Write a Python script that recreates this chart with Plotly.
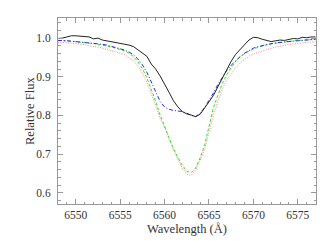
import plotly.graph_objects as go

wavelength = [6548.0 + 0.5 * i for i in range(59)]

flux_observed = [
    0.999, 1.000, 1.003, 1.006, 1.006, 1.005, 1.005, 1.003, 0.998, 1.000,
    0.995, 0.993, 0.991, 0.989, 0.987, 0.985, 0.982, 0.978, 0.970, 0.960,
    0.953, 0.933, 0.920, 0.902, 0.882, 0.860, 0.838, 0.822, 0.810, 0.804,
    0.801, 0.797, 0.803, 0.818, 0.835, 0.852, 0.875, 0.898, 0.918, 0.940,
    0.958, 0.970, 0.982, 0.995, 1.002, 1.001, 0.997, 0.993, 0.991, 0.993,
    0.995, 0.994, 0.997, 0.999, 0.998, 1.002, 1.001, 1.003, 1.003,
]

flux_model_blue = [
    0.994, 0.994, 0.993, 0.992, 0.991, 0.990, 0.989, 0.988, 0.987, 0.985,
    0.984, 0.982, 0.979, 0.976, 0.973, 0.969, 0.964, 0.957, 0.946, 0.931,
    0.912, 0.887, 0.858, 0.836, 0.822, 0.816, 0.813, 0.812, 0.810, 0.806,
    0.800, 0.797, 0.806, 0.820, 0.838, 0.858, 0.880, 0.899, 0.916, 0.930,
    0.942, 0.952, 0.961, 0.968, 0.974, 0.978, 0.981, 0.984, 0.986, 0.988,
    0.989, 0.990, 0.992, 0.993, 0.994, 0.995, 0.996, 0.996, 0.997,
]

flux_model_green = [
    0.994, 0.994, 0.993, 0.992, 0.991, 0.990, 0.989, 0.987, 0.986, 0.984,
    0.982, 0.980, 0.977, 0.974, 0.971, 0.967, 0.961, 0.952, 0.939, 0.921,
    0.898, 0.869, 0.836, 0.801, 0.772, 0.741, 0.714, 0.691, 0.671, 0.656,
    0.652, 0.664, 0.690, 0.722, 0.772, 0.820, 0.852, 0.883, 0.905, 0.924,
    0.939, 0.951, 0.960, 0.967, 0.972, 0.976, 0.980, 0.983, 0.985, 0.987,
    0.989, 0.990, 0.992, 0.993, 0.994, 0.995, 0.996, 0.996, 0.997,
]

flux_model_red = [
    0.989, 0.989, 0.988, 0.987, 0.986, 0.985, 0.983, 0.980, 0.979, 0.977,
    0.974, 0.971, 0.968, 0.964, 0.961, 0.957, 0.950, 0.942, 0.928, 0.909,
    0.886, 0.858, 0.826, 0.792, 0.770, 0.738, 0.710, 0.686, 0.664, 0.648,
    0.645, 0.659, 0.683, 0.712, 0.755, 0.800, 0.836, 0.868, 0.892, 0.909,
    0.923, 0.935, 0.945, 0.953, 0.959, 0.963, 0.967, 0.971, 0.974, 0.977,
    0.979, 0.982, 0.984, 0.985, 0.987, 0.988, 0.989, 0.990, 0.991,
]

x_ticks = [6550, 6555, 6560, 6565, 6570, 6575]
y_ticks = [0.6, 0.7, 0.8, 0.9, 1.0]

fig = go.Figure()
fig.add_trace(go.Scatter(x=wavelength, y=flux_model_red, mode="lines",
                         line=dict(color="#ff7f7f", width=1, dash="1px,1.5px")))
fig.add_trace(go.Scatter(x=wavelength, y=flux_model_green, mode="lines",
                         line=dict(color="#33dd33", width=1, dash="3px,2px")))
fig.add_trace(go.Scatter(x=wavelength, y=flux_model_blue, mode="lines",
                         line=dict(color="#2a2aee", width=1, dash="4px,2px,1px,2px")))
fig.add_trace(go.Scatter(x=wavelength, y=flux_observed, mode="lines",
                         line=dict(color="#222222", width=1)))

font_family = "Liberation Serif, Times New Roman, serif"
axis_common = dict(
    showgrid=False, zeroline=False, showline=True, linecolor="#999999",
    linewidth=1, mirror="allticks", ticks="inside", tickcolor="#999999",
    ticklen=5, tickwidth=1,
    tickfont=dict(family=font_family, size=11.5, color="#333333"),
)

fig.update_xaxes(
    range=[6548, 6577.05], tickvals=x_ticks, ticktext=[str(v) for v in x_ticks],
    minor=dict(dtick=1, tick0=6548, ticks="inside", ticklen=2.5, tickcolor="#999999"),
    ticklabelstandoff=0,
    **axis_common,
)
fig.update_yaxes(
    range=[0.571, 1.052], tickvals=y_ticks, ticktext=[f"{v:.1f}" for v in y_ticks],
    minor=dict(dtick=0.02, tick0=0.6, ticks="inside", ticklen=2.5, tickcolor="#999999"),
    ticklabelstandoff=4,
    **axis_common,
)

title_font = dict(family=font_family, size=12.5, color="#333333")
fig.add_annotation(text="Wavelength (Å)", xref="paper", yref="paper", x=0.5, y=0.0,
                   yshift=-25, xanchor="center", yanchor="middle", showarrow=False,
                   font=title_font)
fig.add_annotation(text="Relative Flux", xref="paper", yref="paper", x=0, y=0.5,
                   xshift=-28, xanchor="center", yanchor="middle", showarrow=False,
                   textangle=-90, font=title_font)

fig.update_layout(
    width=334, height=241,
    margin=dict(l=50, r=26, t=10, b=45),
    paper_bgcolor="white", plot_bgcolor="white",
    showlegend=False,
)

fig.write_html("out.html")
